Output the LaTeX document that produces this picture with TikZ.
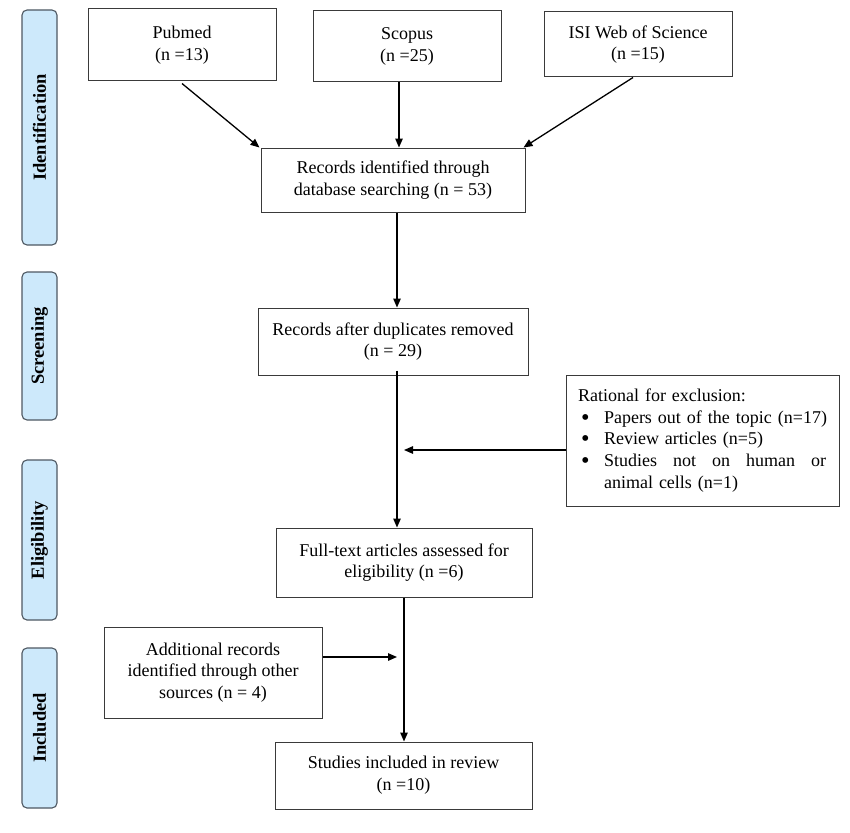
\documentclass[tikz,border=0pt]{standalone}
\usepackage{fontspec}
\usepackage{graphicx}
\setmainfont{Liberation Serif}
\usetikzlibrary{arrows.meta,calc}
\definecolor{barfill}{HTML}{CDE9FB}
\definecolor{barline}{HTML}{4E5862}
\definecolor{boxline}{HTML}{3A3A3A}
\newcommand{\bigbul}{\hspace*{3pt}\raisebox{-2pt}[0pt][0pt]{\scalebox{1.35}{\textbullet}}}
\tikzset{
  box/.style={draw=boxline, line width=1pt, inner sep=0pt, align=center,
    font=\fontsize{18}{21.7}\selectfont},
  phase/.style={draw=barline, fill=barfill, line width=1.1pt, rounded corners=5pt,
    inner sep=0pt, minimum width=35pt,
    font=\fontsize{18}{21.7}\selectfont\bfseries},
  phasetext/.style={rotate=90, font=\fontsize{18.5}{21.7}\selectfont\bfseries},
  arr/.style={draw=black, line width=1.3pt, -{Triangle[length=9pt,width=7.5pt]}},
  ln/.style={draw=black, line width=1.3pt}
}
\begin{document}
\begin{tikzpicture}[x=1pt,y=-1pt]
\useasboundingbox (0,0) rectangle (850,832);
% phase bars
\node[phase, minimum height=235pt] (ident) at (39.5,127.5) {};
\node[phasetext] (identt) at (ident.center) {Identification};
\node[phase, minimum height=148pt] (scr) at (39.5,346) {};
\node[phasetext] (scrt) at (scr.center) {Screening};
\node[phase, minimum height=160pt] (eli) at (39.5,540) {};
\node[phasetext] (elit) at (eli.center) {Eligibility};
\node[phase, minimum height=160pt] (inc) at (39.5,728) {};
\node[phasetext] (inct) at (inc.center) {Included};
% boxes
\node[box, minimum width=188pt, minimum height=72pt] (pub) at (182,45) {Pubmed\\(n =13)};
\node[box, minimum width=188pt, minimum height=71pt] (sco) at (407,46.5) {Scopus\\(n =25)};
\node[box, minimum width=188pt, minimum height=65pt] (isi) at (638,44.5) {ISI Web of Science\\(n =15)};
\node[box, minimum width=264pt, minimum height=64pt] (rid) at (393,180) {Records identified through\\database searching (n = 53)};
\node[box, minimum width=270pt, minimum height=67pt] (dup) at (393,341.5) {Records after duplicates removed\\(n = 29)};
\node[box, minimum width=273pt, minimum height=131pt, inner xsep=12pt, text width=249pt, align=left] (excl) at (702.5,440.5) {%
\begin{tabular}{@{}p{26pt}@{}l@{}}
\multicolumn{2}{@{}l@{}}{Rational for exclusion:}\\
\bigbul & Papers out of the topic (n=17)\\
\bigbul & Review articles (n=5)\\
\bigbul & \makebox[222pt][s]{Studies\hfill not\hfill on\hfill human\hfill or}\\
 & animal cells (n=1)
\end{tabular}};
\node[box, minimum width=256pt, minimum height=69pt] (full) at (404,562.5) {Full-text articles assessed for\\eligibility (n =6)};
\node[box, minimum width=218pt, minimum height=91pt] (add) at (213,672.5) {Additional records\\identified through other\\sources (n = 4)};
\node[box, minimum width=257pt, minimum height=67pt] (stu) at (403.5,775.5) {Studies included in review\\(n =10)};
% connectors
\coordinate (pubs) at ([yshift=-2pt]pub.south);
\draw[arr] (pubs) -- ([xshift=-1pt]rid.north west);
\draw[arr] ([xshift=-8pt]sco.south) -- ([xshift=-8pt]sco.south |- rid.north);
\draw[arr] ([xshift=-5pt]isi.south) -- ([xshift=-2pt]rid.north east);
\draw[arr] ([xshift=4pt]rid.south) -- ([xshift=4pt]rid.south |- dup.north);
\coordinate (dupb) at ([xshift=4pt,yshift=5pt]dup.south);
\draw[arr] (dupb) -- (dupb |- full.north);
\coordinate (m1) at (404,450);
\draw[arr] (excl.west |- m1) -- (m1);
\draw[arr] (full.south) -- (full.south |- stu.north);
\coordinate (m2) at (397,657);
\draw[arr] (add.east |- m2) -- (m2);
\end{tikzpicture}
\end{document}
